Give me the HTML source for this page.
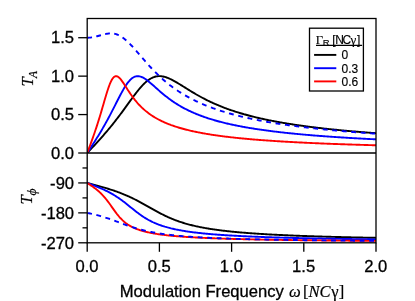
<!DOCTYPE html>
<html lang="en"><head><meta charset="utf-8"><title>Transfer functions vs modulation frequency</title>
<style>
html,body{margin:0;padding:0;background:#fff;overflow:hidden}
body{width:415px;height:301px;position:relative;font-family:"Liberation Sans",sans-serif}
svg{position:absolute;left:0;top:0;display:block}
.t{fill:#000;will-change:transform}
.sans{font-family:"Liberation Sans",sans-serif}
.serif{font-family:"Liberation Serif",serif}
</style></head>
<body>
<svg width="415" height="301" viewBox="0 0 415 301">
<rect x="0" y="0" width="415" height="301" fill="#fff"/>
<defs><clipPath id="ca"><rect x="87.2" y="18.5" width="289.2" height="134.5"/></clipPath><clipPath id="cp"><rect x="87.2" y="153.0" width="289.2" height="91.0"/></clipPath></defs>
<!-- amplitude transfer function curves -->
<g fill="none" stroke-width="1.9" stroke-linejoin="round" clip-path="url(#ca)">
<path d="M87.2 153L88.1 152.04L89.01 151.08L89.91 150.12L90.81 149.15L91.71 148.19L92.62 147.22L93.52 146.25L94.42 145.28L95.32 144.3L96.23 143.32L97.13 142.33L98.03 141.34L98.93 140.35L99.84 139.35L100.74 138.34L101.64 137.32L102.54 136.3L103.45 135.28L104.35 134.24L105.25 133.2L106.15 132.14L107.06 131.08L107.96 130.01L108.86 128.94L109.76 127.85L110.67 126.75L111.57 125.64L112.47 124.53L113.37 123.4L114.28 122.26L115.18 121.11L116.08 119.96L116.98 118.79L117.89 117.61L118.79 116.43L119.69 115.23L120.59 114.03L121.5 112.81L122.4 111.59L123.3 110.37L124.2 109.13L125.11 107.9L126.01 106.66L126.91 105.41L127.81 104.17L128.72 102.92L129.62 101.68L130.52 100.43L131.42 99.2L132.32 97.97L133.23 96.75L134.13 95.54L135.03 94.35L135.94 93.17L136.84 92.02L137.74 90.88L138.64 89.77L139.55 88.69L140.45 87.63L141.35 86.61L142.25 85.63L143.16 84.68L144.06 83.77L144.96 82.91L145.86 82.1L146.77 81.33L147.67 80.61L148.57 79.94L149.47 79.32L150.38 78.76L151.28 78.25L152.18 77.8L153.08 77.4L153.99 77.06L154.89 76.78L155.79 76.54L156.69 76.37L157.6 76.24L158.5 76.17L159.4 76.14L160.3 76.17L161.21 76.24L162.11 76.35L163.01 76.51L163.91 76.7L164.81 76.94L165.72 77.2L166.62 77.51L167.52 77.84L168.43 78.2L169.33 78.59L170.23 79L171.13 79.43L172.04 79.88L172.94 80.35L173.84 80.84L174.74 81.34L175.65 81.85L176.55 82.38L177.45 82.91L178.35 83.45L179.25 84L180.16 84.56L181.06 85.11L181.96 85.67L182.87 86.24L183.77 86.8L184.67 87.37L185.57 87.93L186.48 88.49L187.38 89.05L188.28 89.61L189.18 90.17L190.09 90.72L190.99 91.27L191.89 91.82L192.79 92.36L193.69 92.9L194.6 93.43L195.5 93.96L196.4 94.48L197.31 94.99L198.21 95.51L199.11 96.01L200.01 96.51L200.92 97L201.82 97.49L202.72 97.97L203.62 98.45L204.53 98.91L205.43 99.38L206.33 99.83L207.23 100.29L208.13 100.73L209.04 101.17L209.94 101.6L210.84 102.03L211.75 102.45L212.65 102.87L213.55 103.28L214.45 103.68L215.36 104.08L216.26 104.47L217.16 104.86L218.06 105.24L218.97 105.62L219.87 105.99L220.77 106.35L221.67 106.71L222.57 107.07L223.48 107.42L224.38 107.77L225.28 108.11L226.19 108.44L227.09 108.78L227.99 109.1L228.89 109.43L229.8 109.74L230.7 110.06L231.6 110.37L232.5 110.67L233.41 110.97L234.31 111.27L235.21 111.56L236.11 111.85L237.02 112.14L237.92 112.42L238.82 112.7L239.72 112.97L240.62 113.24L241.53 113.51L242.43 113.77L243.33 114.03L244.24 114.29L245.14 114.54L246.04 114.79L246.94 115.04L247.85 115.28L248.75 115.52L249.65 115.76L250.55 116L251.45 116.23L252.36 116.46L253.26 116.68L254.16 116.91L255.06 117.13L255.97 117.35L256.87 117.56L257.77 117.77L258.68 117.98L259.58 118.19L260.48 118.4L261.38 118.6L262.29 118.8L263.19 119L264.09 119.2L264.99 119.39L265.9 119.58L266.8 119.77L267.7 119.96L268.6 120.14L269.51 120.32L270.41 120.51L271.31 120.68L272.21 120.86L273.12 121.04L274.02 121.21L274.92 121.38L275.82 121.55L276.73 121.72L277.63 121.88L278.53 122.05L279.43 122.21L280.34 122.37L281.24 122.53L282.14 122.68L283.04 122.84L283.94 122.99L284.85 123.15L285.75 123.3L286.65 123.44L287.56 123.59L288.46 123.74L289.36 123.88L290.26 124.03L291.17 124.17L292.07 124.31L292.97 124.45L293.87 124.58L294.78 124.72L295.68 124.86L296.58 124.99L297.48 125.12L298.39 125.25L299.29 125.38L300.19 125.51L301.09 125.64L302 125.76L302.9 125.89L303.8 126.01L304.7 126.14L305.61 126.26L306.51 126.38L307.41 126.5L308.31 126.62L309.22 126.73L310.12 126.85L311.02 126.96L311.92 127.08L312.82 127.19L313.73 127.3L314.63 127.41L315.53 127.52L316.44 127.63L317.34 127.74L318.24 127.85L319.14 127.95L320.05 128.06L320.95 128.16L321.85 128.27L322.75 128.37L323.66 128.47L324.56 128.57L325.46 128.67L326.36 128.77L327.27 128.87L328.17 128.97L329.07 129.07L329.97 129.16L330.88 129.26L331.78 129.35L332.68 129.45L333.58 129.54L334.49 129.63L335.39 129.72L336.29 129.81L337.19 129.9L338.1 129.99L339 130.08L339.9 130.17L340.8 130.26L341.71 130.34L342.61 130.43L343.51 130.51L344.41 130.6L345.31 130.68L346.22 130.76L347.12 130.85L348.02 130.93L348.93 131.01L349.83 131.09L350.73 131.17L351.63 131.25L352.54 131.33L353.44 131.41L354.34 131.49L355.24 131.56L356.14 131.64L357.05 131.72L357.95 131.79L358.85 131.87L359.76 131.94L360.66 132.02L361.56 132.09L362.46 132.16L363.37 132.23L364.27 132.31L365.17 132.38L366.07 132.45L366.98 132.52L367.88 132.59L368.78 132.66L369.68 132.73L370.59 132.8L371.49 132.86L372.39 132.93L373.29 133L374.19 133.06L375.1 133.13L376 133.2" stroke="#000"/>
<path d="M87.2 153L88.1 151.63L89.01 150.25L89.91 148.88L90.81 147.5L91.71 146.11L92.62 144.72L93.52 143.32L94.42 141.91L95.32 140.49L96.23 139.06L97.13 137.62L98.03 136.16L98.93 134.69L99.84 133.2L100.74 131.69L101.64 130.17L102.54 128.63L103.45 127.07L104.35 125.48L105.25 123.88L106.15 122.26L107.06 120.62L107.96 118.96L108.86 117.27L109.76 115.57L110.67 113.85L111.57 112.12L112.47 110.37L113.37 108.6L114.28 106.83L115.18 105.06L116.08 103.28L116.98 101.5L117.89 99.73L118.79 97.97L119.69 96.23L120.59 94.52L121.5 92.84L122.4 91.2L123.3 89.61L124.2 88.08L125.11 86.61L126.01 85.22L126.91 83.9L127.81 82.67L128.72 81.54L129.62 80.51L130.52 79.58L131.42 78.76L132.32 78.05L133.23 77.46L134.13 76.97L135.03 76.61L135.94 76.35L136.84 76.19L137.74 76.14L138.64 76.19L139.55 76.33L140.45 76.56L141.35 76.87L142.25 77.25L143.16 77.69L144.06 78.2L144.96 78.76L145.86 79.37L146.77 80.02L147.67 80.7L148.57 81.41L149.47 82.15L150.38 82.91L151.28 83.69L152.18 84.48L153.08 85.27L153.99 86.08L154.89 86.88L155.79 87.69L156.69 88.49L157.6 89.29L158.5 90.09L159.4 90.88L160.3 91.66L161.21 92.44L162.11 93.2L163.01 93.96L163.91 94.7L164.81 95.43L165.72 96.15L166.62 96.86L167.52 97.56L168.43 98.24L169.33 98.91L170.23 99.57L171.13 100.22L172.04 100.86L172.94 101.48L173.84 102.09L174.74 102.69L175.65 103.28L176.55 103.85L177.45 104.41L178.35 104.97L179.25 105.51L180.16 106.04L181.06 106.56L181.96 107.07L182.87 107.57L183.77 108.06L184.67 108.54L185.57 109.01L186.48 109.47L187.38 109.92L188.28 110.37L189.18 110.8L190.09 111.23L190.99 111.65L191.89 112.06L192.79 112.46L193.69 112.86L194.6 113.24L195.5 113.62L196.4 114L197.31 114.36L198.21 114.72L199.11 115.08L200.01 115.42L200.92 115.76L201.82 116.1L202.72 116.43L203.62 116.75L204.53 117.07L205.43 117.38L206.33 117.68L207.23 117.98L208.13 118.28L209.04 118.57L209.94 118.86L210.84 119.14L211.75 119.42L212.65 119.69L213.55 119.96L214.45 120.22L215.36 120.48L216.26 120.73L217.16 120.99L218.06 121.23L218.97 121.48L219.87 121.72L220.77 121.95L221.67 122.18L222.57 122.41L223.48 122.64L224.38 122.86L225.28 123.08L226.19 123.3L227.09 123.51L227.99 123.72L228.89 123.92L229.8 124.13L230.7 124.33L231.6 124.53L232.5 124.72L233.41 124.91L234.31 125.1L235.21 125.29L236.11 125.47L237.02 125.66L237.92 125.84L238.82 126.01L239.72 126.19L240.62 126.36L241.53 126.53L242.43 126.7L243.33 126.87L244.24 127.03L245.14 127.19L246.04 127.35L246.94 127.51L247.85 127.66L248.75 127.82L249.65 127.97L250.55 128.12L251.45 128.27L252.36 128.41L253.26 128.56L254.16 128.7L255.06 128.84L255.97 128.98L256.87 129.12L257.77 129.26L258.68 129.39L259.58 129.52L260.48 129.66L261.38 129.79L262.29 129.92L263.19 130.04L264.09 130.17L264.99 130.29L265.9 130.42L266.8 130.54L267.7 130.66L268.6 130.78L269.51 130.89L270.41 131.01L271.31 131.13L272.21 131.24L273.12 131.35L274.02 131.46L274.92 131.57L275.82 131.68L276.73 131.79L277.63 131.9L278.53 132.01L279.43 132.11L280.34 132.21L281.24 132.32L282.14 132.42L283.04 132.52L283.94 132.62L284.85 132.72L285.75 132.82L286.65 132.91L287.56 133.01L288.46 133.1L289.36 133.2L290.26 133.29L291.17 133.38L292.07 133.47L292.97 133.56L293.87 133.65L294.78 133.74L295.68 133.83L296.58 133.92L297.48 134L298.39 134.09L299.29 134.17L300.19 134.26L301.09 134.34L302 134.42L302.9 134.51L303.8 134.59L304.7 134.67L305.61 134.75L306.51 134.83L307.41 134.9L308.31 134.98L309.22 135.06L310.12 135.13L311.02 135.21L311.92 135.28L312.82 135.36L313.73 135.43L314.63 135.51L315.53 135.58L316.44 135.65L317.34 135.72L318.24 135.79L319.14 135.86L320.05 135.93L320.95 136L321.85 136.07L322.75 136.14L323.66 136.2L324.56 136.27L325.46 136.33L326.36 136.4L327.27 136.47L328.17 136.53L329.07 136.59L329.97 136.66L330.88 136.72L331.78 136.78L332.68 136.85L333.58 136.91L334.49 136.97L335.39 137.03L336.29 137.09L337.19 137.15L338.1 137.21L339 137.27L339.9 137.32L340.8 137.38L341.71 137.44L342.61 137.5L343.51 137.55L344.41 137.61L345.31 137.67L346.22 137.72L347.12 137.78L348.02 137.83L348.93 137.88L349.83 137.94L350.73 137.99L351.63 138.05L352.54 138.1L353.44 138.15L354.34 138.2L355.24 138.25L356.14 138.3L357.05 138.36L357.95 138.41L358.85 138.46L359.76 138.51L360.66 138.56L361.56 138.6L362.46 138.65L363.37 138.7L364.27 138.75L365.17 138.8L366.07 138.84L366.98 138.89L367.88 138.94L368.78 138.98L369.68 139.03L370.59 139.08L371.49 139.12L372.39 139.17L373.29 139.21L374.19 139.26L375.1 139.3L376 139.35" stroke="#00f"/>
<path d="M87.2 153L88.1 150.6L89.01 148.19L89.91 145.76L90.81 143.32L91.71 140.85L92.62 138.34L93.52 135.79L94.42 133.2L95.32 130.55L96.23 127.85L97.13 125.09L98.03 122.26L98.93 119.37L99.84 116.43L100.74 113.42L101.64 110.37L102.54 107.28L103.45 104.17L104.35 101.05L105.25 97.97L106.15 94.95L107.06 92.02L107.96 89.22L108.86 86.61L109.76 84.22L110.67 82.1L111.57 80.27L112.47 78.76L113.37 77.6L114.28 76.78L115.18 76.3L116.08 76.14L116.98 76.29L117.89 76.7L118.79 77.35L119.69 78.2L120.59 79.21L121.5 80.35L122.4 81.6L123.3 82.91L124.2 84.28L125.11 85.67L126.01 87.08L126.91 88.49L127.81 89.89L128.72 91.27L129.62 92.63L130.52 93.96L131.42 95.25L132.32 96.51L133.23 97.73L134.13 98.91L135.03 100.06L135.94 101.17L136.84 102.24L137.74 103.28L138.64 104.27L139.55 105.24L140.45 106.17L141.35 107.07L142.25 107.94L143.16 108.78L144.06 109.59L144.96 110.37L145.86 111.12L146.77 111.85L147.67 112.56L148.57 113.24L149.47 113.9L150.38 114.54L151.28 115.16L152.18 115.76L153.08 116.34L153.99 116.91L154.89 117.45L155.79 117.98L156.69 118.5L157.6 119L158.5 119.48L159.4 119.96L160.3 120.41L161.21 120.86L162.11 121.29L163.01 121.72L163.91 122.13L164.81 122.53L165.72 122.92L166.62 123.3L167.52 123.67L168.43 124.03L169.33 124.38L170.23 124.72L171.13 125.06L172.04 125.38L172.94 125.7L173.84 126.01L174.74 126.32L175.65 126.62L176.55 126.91L177.45 127.19L178.35 127.47L179.25 127.74L180.16 128.01L181.06 128.27L181.96 128.52L182.87 128.77L183.77 129.02L184.67 129.26L185.57 129.49L186.48 129.72L187.38 129.95L188.28 130.17L189.18 130.39L190.09 130.6L190.99 130.81L191.89 131.01L192.79 131.21L193.69 131.41L194.6 131.6L195.5 131.79L196.4 131.98L197.31 132.16L198.21 132.34L199.11 132.52L200.01 132.69L200.92 132.86L201.82 133.03L202.72 133.2L203.62 133.36L204.53 133.52L205.43 133.68L206.33 133.83L207.23 133.98L208.13 134.13L209.04 134.28L209.94 134.42L210.84 134.57L211.75 134.71L212.65 134.84L213.55 134.98L214.45 135.11L215.36 135.25L216.26 135.38L217.16 135.51L218.06 135.63L218.97 135.76L219.87 135.88L220.77 136L221.67 136.12L222.57 136.24L223.48 136.35L224.38 136.47L225.28 136.58L226.19 136.69L227.09 136.8L227.99 136.91L228.89 137.01L229.8 137.12L230.7 137.22L231.6 137.32L232.5 137.43L233.41 137.53L234.31 137.62L235.21 137.72L236.11 137.82L237.02 137.91L237.92 138.01L238.82 138.1L239.72 138.19L240.62 138.28L241.53 138.37L242.43 138.46L243.33 138.54L244.24 138.63L245.14 138.71L246.04 138.8L246.94 138.88L247.85 138.96L248.75 139.04L249.65 139.12L250.55 139.2L251.45 139.28L252.36 139.36L253.26 139.43L254.16 139.51L255.06 139.58L255.97 139.66L256.87 139.73L257.77 139.8L258.68 139.87L259.58 139.94L260.48 140.01L261.38 140.08L262.29 140.15L263.19 140.22L264.09 140.29L264.99 140.35L265.9 140.42L266.8 140.48L267.7 140.55L268.6 140.61L269.51 140.67L270.41 140.74L271.31 140.8L272.21 140.86L273.12 140.92L274.02 140.98L274.92 141.04L275.82 141.1L276.73 141.15L277.63 141.21L278.53 141.27L279.43 141.32L280.34 141.38L281.24 141.43L282.14 141.49L283.04 141.54L283.94 141.6L284.85 141.65L285.75 141.7L286.65 141.76L287.56 141.81L288.46 141.86L289.36 141.91L290.26 141.96L291.17 142.01L292.07 142.06L292.97 142.11L293.87 142.16L294.78 142.2L295.68 142.25L296.58 142.3L297.48 142.35L298.39 142.39L299.29 142.44L300.19 142.48L301.09 142.53L302 142.57L302.9 142.62L303.8 142.66L304.7 142.71L305.61 142.75L306.51 142.79L307.41 142.83L308.31 142.88L309.22 142.92L310.12 142.96L311.02 143L311.92 143.04L312.82 143.08L313.73 143.12L314.63 143.16L315.53 143.2L316.44 143.24L317.34 143.28L318.24 143.32L319.14 143.36L320.05 143.39L320.95 143.43L321.85 143.47L322.75 143.51L323.66 143.54L324.56 143.58L325.46 143.62L326.36 143.65L327.27 143.69L328.17 143.72L329.07 143.76L329.97 143.79L330.88 143.83L331.78 143.86L332.68 143.9L333.58 143.93L334.49 143.96L335.39 144L336.29 144.03L337.19 144.06L338.1 144.09L339 144.13L339.9 144.16L340.8 144.19L341.71 144.22L342.61 144.25L343.51 144.29L344.41 144.32L345.31 144.35L346.22 144.38L347.12 144.41L348.02 144.44L348.93 144.47L349.83 144.5L350.73 144.53L351.63 144.56L352.54 144.59L353.44 144.61L354.34 144.64L355.24 144.67L356.14 144.7L357.05 144.73L357.95 144.76L358.85 144.78L359.76 144.81L360.66 144.84L361.56 144.87L362.46 144.89L363.37 144.92L364.27 144.95L365.17 144.97L366.07 145L366.98 145.02L367.88 145.05L368.78 145.08L369.68 145.1L370.59 145.13L371.49 145.15L372.39 145.18L373.29 145.2L374.19 145.23L375.1 145.25L376 145.28" stroke="#f00"/>
<path d="M87.2 37.71L88.1 37.7L89.01 37.66L89.91 37.59L90.81 37.5L91.71 37.38L92.62 37.23L93.52 37.07L94.42 36.88L95.32 36.68L96.23 36.46L97.13 36.23L98.03 35.98L98.93 35.73L99.84 35.48L100.74 35.22L101.64 34.97L102.54 34.72L103.45 34.48L104.35 34.26L105.25 34.06L106.15 33.87L107.06 33.71L107.96 33.58L108.86 33.49L109.76 33.42L110.67 33.4L111.57 33.42L112.47 33.48L113.37 33.58L114.28 33.74L115.18 33.94L116.08 34.19L116.98 34.49L117.89 34.85L118.79 35.25L119.69 35.7L120.59 36.21L121.5 36.76L122.4 37.36L123.3 38.01L124.2 38.7L125.11 39.43L126.01 40.2L126.91 41.01L127.81 41.85L128.72 42.72L129.62 43.62L130.52 44.55L131.42 45.5L132.32 46.47L133.23 47.46L134.13 48.47L135.03 49.49L135.94 50.52L136.84 51.55L137.74 52.6L138.64 53.65L139.55 54.7L140.45 55.75L141.35 56.81L142.25 57.86L143.16 58.9L144.06 59.94L144.96 60.98L145.86 62.01L146.77 63.03L147.67 64.04L148.57 65.04L149.47 66.03L150.38 67.01L151.28 67.98L152.18 68.94L153.08 69.89L153.99 70.82L154.89 71.74L155.79 72.65L156.69 73.54L157.6 74.42L158.5 75.29L159.4 76.14L160.3 76.98L161.21 77.81L162.11 78.63L163.01 79.43L163.91 80.22L164.81 80.99L165.72 81.75L166.62 82.5L167.52 83.24L168.43 83.97L169.33 84.68L170.23 85.38L171.13 86.07L172.04 86.74L172.94 87.41L173.84 88.06L174.74 88.71L175.65 89.34L176.55 89.96L177.45 90.57L178.35 91.17L179.25 91.76L180.16 92.34L181.06 92.91L181.96 93.48L182.87 94.03L183.77 94.57L184.67 95.1L185.57 95.63L186.48 96.14L187.38 96.65L188.28 97.15L189.18 97.64L190.09 98.13L190.99 98.6L191.89 99.07L192.79 99.53L193.69 99.98L194.6 100.43L195.5 100.87L196.4 101.3L197.31 101.72L198.21 102.14L199.11 102.55L200.01 102.96L200.92 103.36L201.82 103.75L202.72 104.14L203.62 104.52L204.53 104.9L205.43 105.27L206.33 105.64L207.23 106L208.13 106.35L209.04 106.7L209.94 107.04L210.84 107.38L211.75 107.72L212.65 108.05L213.55 108.37L214.45 108.69L215.36 109.01L216.26 109.32L217.16 109.63L218.06 109.93L218.97 110.23L219.87 110.53L220.77 110.82L221.67 111.11L222.57 111.39L223.48 111.67L224.38 111.95L225.28 112.22L226.19 112.49L227.09 112.75L227.99 113.02L228.89 113.27L229.8 113.53L230.7 113.78L231.6 114.03L232.5 114.28L233.41 114.52L234.31 114.76L235.21 115L236.11 115.23L237.02 115.46L237.92 115.69L238.82 115.92L239.72 116.14L240.62 116.36L241.53 116.58L242.43 116.79L243.33 117.01L244.24 117.22L245.14 117.43L246.04 117.63L246.94 117.83L247.85 118.03L248.75 118.23L249.65 118.43L250.55 118.62L251.45 118.82L252.36 119.01L253.26 119.19L254.16 119.38L255.06 119.56L255.97 119.74L256.87 119.92L257.77 120.1L258.68 120.28L259.58 120.45L260.48 120.62L261.38 120.79L262.29 120.96L263.19 121.13L264.09 121.3L264.99 121.46L265.9 121.62L266.8 121.78L267.7 121.94L268.6 122.1L269.51 122.25L270.41 122.41L271.31 122.56L272.21 122.71L273.12 122.86L274.02 123.01L274.92 123.15L275.82 123.3L276.73 123.44L277.63 123.58L278.53 123.72L279.43 123.86L280.34 124L281.24 124.14L282.14 124.27L283.04 124.41L283.94 124.54L284.85 124.67L285.75 124.8L286.65 124.93L287.56 125.06L288.46 125.19L289.36 125.31L290.26 125.44L291.17 125.56L292.07 125.69L292.97 125.81L293.87 125.93L294.78 126.05L295.68 126.16L296.58 126.28L297.48 126.4L298.39 126.51L299.29 126.63L300.19 126.74L301.09 126.85L302 126.96L302.9 127.07L303.8 127.18L304.7 127.29L305.61 127.4L306.51 127.51L307.41 127.61L308.31 127.72L309.22 127.82L310.12 127.92L311.02 128.03L311.92 128.13L312.82 128.23L313.73 128.33L314.63 128.43L315.53 128.53L316.44 128.62L317.34 128.72L318.24 128.82L319.14 128.91L320.05 129.01L320.95 129.1L321.85 129.19L322.75 129.29L323.66 129.38L324.56 129.47L325.46 129.56L326.36 129.65L327.27 129.74L328.17 129.82L329.07 129.91L329.97 130L330.88 130.08L331.78 130.17L332.68 130.26L333.58 130.34L334.49 130.42L335.39 130.51L336.29 130.59L337.19 130.67L338.1 130.75L339 130.83L339.9 130.91L340.8 130.99L341.71 131.07L342.61 131.15L343.51 131.23L344.41 131.3L345.31 131.38L346.22 131.46L347.12 131.53L348.02 131.61L348.93 131.68L349.83 131.75L350.73 131.83L351.63 131.9L352.54 131.97L353.44 132.05L354.34 132.12L355.24 132.19L356.14 132.26L357.05 132.33L357.95 132.4L358.85 132.47L359.76 132.54L360.66 132.6L361.56 132.67L362.46 132.74L363.37 132.81L364.27 132.87L365.17 132.94L366.07 133L366.98 133.07L367.88 133.13L368.78 133.2L369.68 133.26L370.59 133.32L371.49 133.39L372.39 133.45L373.29 133.51L374.19 133.57L375.1 133.64L376 133.7" stroke="#00f" stroke-dasharray="4.85 4.32 4.85 4.32 4.85 4.32 4.85 4.32 4.85 4.67 4.85 4.67 4.85 4.67 4.85 4.67 4.85 4.67 4.85 4.67 4.85 4.67 4.85 4.67 4.85 4.67 4.85 4.67 4.85 4.67 4.85 4.67 4.85 4.67 4.85 4.67 4.85 4.67 4.85 4.67 4.85 4.67 4.85 4.67 4.85 4.67 4.85 4.67 4.85 4.67 4.85 4.67 4.85 4.67 4.85 4.67 4.85 4.67 4.85 4.67 4.85 4.67 4.85 4.67 4.85 4.67 4.85 4.67 4.85 4.67 4.85 4.67 4.85 4.67 4.85 4.67"/>
</g>
<!-- phase transfer function curves -->
<g fill="none" stroke-width="1.9" stroke-linejoin="round" clip-path="url(#cp)">
<path d="M87.2 182.93L88.1 183.17L89.01 183.41L89.91 183.65L90.81 183.89L91.71 184.13L92.62 184.37L93.52 184.61L94.42 184.85L95.32 185.1L96.23 185.34L97.13 185.59L98.03 185.83L98.93 186.08L99.84 186.34L100.74 186.59L101.64 186.85L102.54 187.11L103.45 187.37L104.35 187.63L105.25 187.9L106.15 188.17L107.06 188.44L107.96 188.72L108.86 189L109.76 189.29L110.67 189.58L111.57 189.87L112.47 190.17L113.37 190.47L114.28 190.77L115.18 191.09L116.08 191.4L116.98 191.72L117.89 192.05L118.79 192.38L119.69 192.72L120.59 193.07L121.5 193.42L122.4 193.78L123.3 194.14L124.2 194.51L125.11 194.88L126.01 195.27L126.91 195.66L127.81 196.05L128.72 196.46L129.62 196.87L130.52 197.29L131.42 197.71L132.32 198.14L133.23 198.58L134.13 199.02L135.03 199.48L135.94 199.93L136.84 200.4L137.74 200.87L138.64 201.34L139.55 201.83L140.45 202.31L141.35 202.8L142.25 203.3L143.16 203.8L144.06 204.3L144.96 204.81L145.86 205.32L146.77 205.83L147.67 206.34L148.57 206.85L149.47 207.37L150.38 207.88L151.28 208.39L152.18 208.9L153.08 209.41L153.99 209.92L154.89 210.42L155.79 210.92L156.69 211.41L157.6 211.9L158.5 212.39L159.4 212.87L160.3 213.34L161.21 213.81L162.11 214.27L163.01 214.72L163.91 215.17L164.81 215.61L165.72 216.04L166.62 216.46L167.52 216.88L168.43 217.29L169.33 217.68L170.23 218.08L171.13 218.46L172.04 218.84L172.94 219.2L173.84 219.56L174.74 219.92L175.65 220.26L176.55 220.6L177.45 220.92L178.35 221.25L179.25 221.56L180.16 221.87L181.06 222.17L181.96 222.46L182.87 222.74L183.77 223.02L184.67 223.29L185.57 223.56L186.48 223.82L187.38 224.07L188.28 224.32L189.18 224.56L190.09 224.8L190.99 225.03L191.89 225.25L192.79 225.48L193.69 225.69L194.6 225.9L195.5 226.11L196.4 226.31L197.31 226.5L198.21 226.69L199.11 226.88L200.01 227.07L200.92 227.24L201.82 227.42L202.72 227.59L203.62 227.76L204.53 227.92L205.43 228.09L206.33 228.24L207.23 228.4L208.13 228.55L209.04 228.7L209.94 228.84L210.84 228.98L211.75 229.12L212.65 229.26L213.55 229.39L214.45 229.52L215.36 229.65L216.26 229.78L217.16 229.9L218.06 230.02L218.97 230.14L219.87 230.26L220.77 230.37L221.67 230.48L222.57 230.59L223.48 230.7L224.38 230.81L225.28 230.91L226.19 231.02L227.09 231.12L227.99 231.22L228.89 231.31L229.8 231.41L230.7 231.5L231.6 231.59L232.5 231.69L233.41 231.78L234.31 231.86L235.21 231.95L236.11 232.03L237.02 232.12L237.92 232.2L238.82 232.28L239.72 232.36L240.62 232.44L241.53 232.52L242.43 232.59L243.33 232.67L244.24 232.74L245.14 232.81L246.04 232.89L246.94 232.96L247.85 233.03L248.75 233.09L249.65 233.16L250.55 233.23L251.45 233.29L252.36 233.36L253.26 233.42L254.16 233.48L255.06 233.55L255.97 233.61L256.87 233.67L257.77 233.73L258.68 233.79L259.58 233.84L260.48 233.9L261.38 233.96L262.29 234.01L263.19 234.07L264.09 234.12L264.99 234.17L265.9 234.23L266.8 234.28L267.7 234.33L268.6 234.38L269.51 234.43L270.41 234.48L271.31 234.53L272.21 234.58L273.12 234.63L274.02 234.67L274.92 234.72L275.82 234.77L276.73 234.81L277.63 234.86L278.53 234.9L279.43 234.94L280.34 234.99L281.24 235.03L282.14 235.07L283.04 235.12L283.94 235.16L284.85 235.2L285.75 235.24L286.65 235.28L287.56 235.32L288.46 235.36L289.36 235.4L290.26 235.43L291.17 235.47L292.07 235.51L292.97 235.55L293.87 235.58L294.78 235.62L295.68 235.66L296.58 235.69L297.48 235.73L298.39 235.76L299.29 235.8L300.19 235.83L301.09 235.86L302 235.9L302.9 235.93L303.8 235.96L304.7 236L305.61 236.03L306.51 236.06L307.41 236.09L308.31 236.12L309.22 236.15L310.12 236.18L311.02 236.21L311.92 236.24L312.82 236.27L313.73 236.3L314.63 236.33L315.53 236.36L316.44 236.39L317.34 236.42L318.24 236.45L319.14 236.47L320.05 236.5L320.95 236.53L321.85 236.56L322.75 236.58L323.66 236.61L324.56 236.64L325.46 236.66L326.36 236.69L327.27 236.71L328.17 236.74L329.07 236.77L329.97 236.79L330.88 236.82L331.78 236.84L332.68 236.86L333.58 236.89L334.49 236.91L335.39 236.94L336.29 236.96L337.19 236.98L338.1 237.01L339 237.03L339.9 237.05L340.8 237.07L341.71 237.1L342.61 237.12L343.51 237.14L344.41 237.16L345.31 237.19L346.22 237.21L347.12 237.23L348.02 237.25L348.93 237.27L349.83 237.29L350.73 237.31L351.63 237.33L352.54 237.35L353.44 237.37L354.34 237.39L355.24 237.41L356.14 237.43L357.05 237.45L357.95 237.47L358.85 237.49L359.76 237.51L360.66 237.53L361.56 237.55L362.46 237.57L363.37 237.59L364.27 237.61L365.17 237.62L366.07 237.64L366.98 237.66L367.88 237.68L368.78 237.7L369.68 237.71L370.59 237.73L371.49 237.75L372.39 237.77L373.29 237.78L374.19 237.8L375.1 237.82L376 237.83" stroke="#000"/>
<path d="M87.2 182.93L88.1 183.27L89.01 183.61L89.91 183.96L90.81 184.3L91.71 184.64L92.62 184.99L93.52 185.34L94.42 185.69L95.32 186.05L96.23 186.41L97.13 186.77L98.03 187.14L98.93 187.52L99.84 187.9L100.74 188.29L101.64 188.68L102.54 189.08L103.45 189.49L104.35 189.91L105.25 190.34L106.15 190.77L107.06 191.22L107.96 191.68L108.86 192.15L109.76 192.63L110.67 193.12L111.57 193.62L112.47 194.14L113.37 194.67L114.28 195.21L115.18 195.77L116.08 196.34L116.98 196.93L117.89 197.53L118.79 198.14L119.69 198.77L120.59 199.41L121.5 200.07L122.4 200.73L123.3 201.41L124.2 202.1L125.11 202.8L126.01 203.51L126.91 204.23L127.81 204.95L128.72 205.68L129.62 206.41L130.52 207.15L131.42 207.88L132.32 208.61L133.23 209.34L134.13 210.06L135.03 210.78L135.94 211.48L136.84 212.18L137.74 212.87L138.64 213.54L139.55 214.2L140.45 214.85L141.35 215.48L142.25 216.1L143.16 216.7L144.06 217.29L144.96 217.85L145.86 218.41L146.77 218.94L147.67 219.46L148.57 219.97L149.47 220.45L150.38 220.92L151.28 221.38L152.18 221.82L153.08 222.25L153.99 222.66L154.89 223.06L155.79 223.45L156.69 223.82L157.6 224.18L158.5 224.53L159.4 224.87L160.3 225.19L161.21 225.51L162.11 225.81L163.01 226.11L163.91 226.39L164.81 226.67L165.72 226.93L166.62 227.19L167.52 227.45L168.43 227.69L169.33 227.92L170.23 228.15L171.13 228.38L172.04 228.59L172.94 228.8L173.84 229L174.74 229.2L175.65 229.39L176.55 229.58L177.45 229.76L178.35 229.94L179.25 230.11L180.16 230.27L181.06 230.44L181.96 230.59L182.87 230.75L183.77 230.9L184.67 231.04L185.57 231.19L186.48 231.33L187.38 231.46L188.28 231.59L189.18 231.72L190.09 231.85L190.99 231.97L191.89 232.09L192.79 232.21L193.69 232.33L194.6 232.44L195.5 232.55L196.4 232.66L197.31 232.76L198.21 232.87L199.11 232.97L200.01 233.06L200.92 233.16L201.82 233.26L202.72 233.35L203.62 233.44L204.53 233.53L205.43 233.62L206.33 233.7L207.23 233.79L208.13 233.87L209.04 233.95L209.94 234.03L210.84 234.11L211.75 234.18L212.65 234.26L213.55 234.33L214.45 234.4L215.36 234.47L216.26 234.54L217.16 234.61L218.06 234.68L218.97 234.75L219.87 234.81L220.77 234.88L221.67 234.94L222.57 235L223.48 235.06L224.38 235.12L225.28 235.18L226.19 235.24L227.09 235.3L227.99 235.35L228.89 235.41L229.8 235.46L230.7 235.51L231.6 235.57L232.5 235.62L233.41 235.67L234.31 235.72L235.21 235.77L236.11 235.82L237.02 235.87L237.92 235.92L238.82 235.96L239.72 236.01L240.62 236.06L241.53 236.1L242.43 236.14L243.33 236.19L244.24 236.23L245.14 236.27L246.04 236.32L246.94 236.36L247.85 236.4L248.75 236.44L249.65 236.48L250.55 236.52L251.45 236.56L252.36 236.6L253.26 236.63L254.16 236.67L255.06 236.71L255.97 236.74L256.87 236.78L257.77 236.82L258.68 236.85L259.58 236.88L260.48 236.92L261.38 236.95L262.29 236.99L263.19 237.02L264.09 237.05L264.99 237.08L265.9 237.12L266.8 237.15L267.7 237.18L268.6 237.21L269.51 237.24L270.41 237.27L271.31 237.3L272.21 237.33L273.12 237.36L274.02 237.39L274.92 237.42L275.82 237.44L276.73 237.47L277.63 237.5L278.53 237.53L279.43 237.55L280.34 237.58L281.24 237.61L282.14 237.63L283.04 237.66L283.94 237.69L284.85 237.71L285.75 237.74L286.65 237.76L287.56 237.79L288.46 237.81L289.36 237.83L290.26 237.86L291.17 237.88L292.07 237.9L292.97 237.93L293.87 237.95L294.78 237.97L295.68 238L296.58 238.02L297.48 238.04L298.39 238.06L299.29 238.08L300.19 238.11L301.09 238.13L302 238.15L302.9 238.17L303.8 238.19L304.7 238.21L305.61 238.23L306.51 238.25L307.41 238.27L308.31 238.29L309.22 238.31L310.12 238.33L311.02 238.35L311.92 238.37L312.82 238.39L313.73 238.41L314.63 238.42L315.53 238.44L316.44 238.46L317.34 238.48L318.24 238.5L319.14 238.51L320.05 238.53L320.95 238.55L321.85 238.57L322.75 238.58L323.66 238.6L324.56 238.62L325.46 238.63L326.36 238.65L327.27 238.67L328.17 238.68L329.07 238.7L329.97 238.72L330.88 238.73L331.78 238.75L332.68 238.76L333.58 238.78L334.49 238.8L335.39 238.81L336.29 238.83L337.19 238.84L338.1 238.86L339 238.87L339.9 238.89L340.8 238.9L341.71 238.92L342.61 238.93L343.51 238.94L344.41 238.96L345.31 238.97L346.22 238.99L347.12 239L348.02 239.01L348.93 239.03L349.83 239.04L350.73 239.05L351.63 239.07L352.54 239.08L353.44 239.09L354.34 239.11L355.24 239.12L356.14 239.13L357.05 239.15L357.95 239.16L358.85 239.17L359.76 239.18L360.66 239.2L361.56 239.21L362.46 239.22L363.37 239.23L364.27 239.25L365.17 239.26L366.07 239.27L366.98 239.28L367.88 239.29L368.78 239.31L369.68 239.32L370.59 239.33L371.49 239.34L372.39 239.35L373.29 239.36L374.19 239.37L375.1 239.39L376 239.4" stroke="#00f"/>
<path d="M87.2 182.93L88.1 183.53L89.01 184.13L89.91 184.73L90.81 185.34L91.71 185.96L92.62 186.59L93.52 187.24L94.42 187.9L95.32 188.58L96.23 189.29L97.13 190.02L98.03 190.77L98.93 191.56L99.84 192.38L100.74 193.24L101.64 194.14L102.54 195.08L103.45 196.05L104.35 197.08L105.25 198.14L106.15 199.25L107.06 200.4L107.96 201.58L108.86 202.8L109.76 204.05L110.67 205.32L111.57 206.6L112.47 207.88L113.37 209.16L114.28 210.42L115.18 211.66L116.08 212.87L116.98 214.04L117.89 215.17L118.79 216.25L119.69 217.29L120.59 218.27L121.5 219.2L122.4 220.09L123.3 220.92L124.2 221.71L125.11 222.46L126.01 223.16L126.91 223.82L127.81 224.44L128.72 225.03L129.62 225.58L130.52 226.11L131.42 226.6L132.32 227.07L133.23 227.51L134.13 227.92L135.03 228.32L135.94 228.7L136.84 229.05L137.74 229.39L138.64 229.71L139.55 230.02L140.45 230.31L141.35 230.59L142.25 230.86L143.16 231.12L144.06 231.36L144.96 231.59L145.86 231.82L146.77 232.03L147.67 232.24L148.57 232.44L149.47 232.63L150.38 232.81L151.28 232.99L152.18 233.16L153.08 233.33L153.99 233.48L154.89 233.64L155.79 233.79L156.69 233.93L157.6 234.07L158.5 234.2L159.4 234.33L160.3 234.46L161.21 234.58L162.11 234.7L163.01 234.81L163.91 234.92L164.81 235.03L165.72 235.14L166.62 235.24L167.52 235.34L168.43 235.43L169.33 235.53L170.23 235.62L171.13 235.71L172.04 235.8L172.94 235.88L173.84 235.96L174.74 236.04L175.65 236.12L176.55 236.2L177.45 236.27L178.35 236.35L179.25 236.42L180.16 236.49L181.06 236.56L181.96 236.62L182.87 236.69L183.77 236.75L184.67 236.82L185.57 236.88L186.48 236.94L187.38 236.99L188.28 237.05L189.18 237.11L190.09 237.16L190.99 237.22L191.89 237.27L192.79 237.32L193.69 237.37L194.6 237.42L195.5 237.47L196.4 237.52L197.31 237.57L198.21 237.61L199.11 237.66L200.01 237.7L200.92 237.75L201.82 237.79L202.72 237.83L203.62 237.88L204.53 237.92L205.43 237.96L206.33 238L207.23 238.04L208.13 238.07L209.04 238.11L209.94 238.15L210.84 238.18L211.75 238.22L212.65 238.26L213.55 238.29L214.45 238.32L215.36 238.36L216.26 238.39L217.16 238.42L218.06 238.46L218.97 238.49L219.87 238.52L220.77 238.55L221.67 238.58L222.57 238.61L223.48 238.64L224.38 238.67L225.28 238.7L226.19 238.72L227.09 238.75L227.99 238.78L228.89 238.81L229.8 238.83L230.7 238.86L231.6 238.89L232.5 238.91L233.41 238.94L234.31 238.96L235.21 238.99L236.11 239.01L237.02 239.03L237.92 239.06L238.82 239.08L239.72 239.1L240.62 239.13L241.53 239.15L242.43 239.17L243.33 239.19L244.24 239.22L245.14 239.24L246.04 239.26L246.94 239.28L247.85 239.3L248.75 239.32L249.65 239.34L250.55 239.36L251.45 239.38L252.36 239.4L253.26 239.42L254.16 239.44L255.06 239.46L255.97 239.47L256.87 239.49L257.77 239.51L258.68 239.53L259.58 239.55L260.48 239.56L261.38 239.58L262.29 239.6L263.19 239.62L264.09 239.63L264.99 239.65L265.9 239.67L266.8 239.68L267.7 239.7L268.6 239.71L269.51 239.73L270.41 239.75L271.31 239.76L272.21 239.78L273.12 239.79L274.02 239.81L274.92 239.82L275.82 239.84L276.73 239.85L277.63 239.87L278.53 239.88L279.43 239.89L280.34 239.91L281.24 239.92L282.14 239.94L283.04 239.95L283.94 239.96L284.85 239.98L285.75 239.99L286.65 240L287.56 240.01L288.46 240.03L289.36 240.04L290.26 240.05L291.17 240.07L292.07 240.08L292.97 240.09L293.87 240.1L294.78 240.11L295.68 240.13L296.58 240.14L297.48 240.15L298.39 240.16L299.29 240.17L300.19 240.18L301.09 240.2L302 240.21L302.9 240.22L303.8 240.23L304.7 240.24L305.61 240.25L306.51 240.26L307.41 240.27L308.31 240.28L309.22 240.29L310.12 240.3L311.02 240.31L311.92 240.32L312.82 240.33L313.73 240.34L314.63 240.35L315.53 240.36L316.44 240.37L317.34 240.38L318.24 240.39L319.14 240.4L320.05 240.41L320.95 240.42L321.85 240.43L322.75 240.44L323.66 240.45L324.56 240.46L325.46 240.47L326.36 240.48L327.27 240.49L328.17 240.49L329.07 240.5L329.97 240.51L330.88 240.52L331.78 240.53L332.68 240.54L333.58 240.55L334.49 240.55L335.39 240.56L336.29 240.57L337.19 240.58L338.1 240.59L339 240.6L339.9 240.6L340.8 240.61L341.71 240.62L342.61 240.63L343.51 240.63L344.41 240.64L345.31 240.65L346.22 240.66L347.12 240.67L348.02 240.67L348.93 240.68L349.83 240.69L350.73 240.69L351.63 240.7L352.54 240.71L353.44 240.72L354.34 240.72L355.24 240.73L356.14 240.74L357.05 240.74L357.95 240.75L358.85 240.76L359.76 240.77L360.66 240.77L361.56 240.78L362.46 240.79L363.37 240.79L364.27 240.8L365.17 240.81L366.07 240.81L366.98 240.82L367.88 240.83L368.78 240.83L369.68 240.84L370.59 240.84L371.49 240.85L372.39 240.86L373.29 240.86L374.19 240.87L375.1 240.88L376 240.88" stroke="#f00"/>
<path d="M87.2 212.87L88.1 213.07L89.01 213.26L89.91 213.46L90.81 213.67L91.71 213.87L92.62 214.08L93.52 214.29L94.42 214.5L95.32 214.72L96.23 214.94L97.13 215.17L98.03 215.41L98.93 215.64L99.84 215.89L100.74 216.14L101.64 216.4L102.54 216.66L103.45 216.93L104.35 217.21L105.25 217.49L106.15 217.78L107.06 218.08L107.96 218.38L108.86 218.69L109.76 219L110.67 219.31L111.57 219.64L112.47 219.96L113.37 220.29L114.28 220.62L115.18 220.96L116.08 221.3L116.98 221.64L117.89 221.98L118.79 222.32L119.69 222.66L120.59 223L121.5 223.33L122.4 223.67L123.3 224.01L124.2 224.34L125.11 224.67L126.01 225L126.91 225.32L127.81 225.64L128.72 225.95L129.62 226.26L130.52 226.56L131.42 226.86L132.32 227.16L133.23 227.45L134.13 227.73L135.03 228.01L135.94 228.28L136.84 228.55L137.74 228.81L138.64 229.06L139.55 229.31L140.45 229.55L141.35 229.79L142.25 230.02L143.16 230.25L144.06 230.47L144.96 230.68L145.86 230.89L146.77 231.1L147.67 231.3L148.57 231.49L149.47 231.68L150.38 231.86L151.28 232.04L152.18 232.22L153.08 232.39L153.99 232.55L154.89 232.72L155.79 232.87L156.69 233.03L157.6 233.18L158.5 233.32L159.4 233.46L160.3 233.6L161.21 233.74L162.11 233.87L163.01 234L163.91 234.12L164.81 234.24L165.72 234.36L166.62 234.48L167.52 234.59L168.43 234.7L169.33 234.81L170.23 234.91L171.13 235.02L172.04 235.12L172.94 235.21L173.84 235.31L174.74 235.4L175.65 235.49L176.55 235.58L177.45 235.67L178.35 235.76L179.25 235.84L180.16 235.92L181.06 236L181.96 236.08L182.87 236.15L183.77 236.23L184.67 236.3L185.57 236.37L186.48 236.44L187.38 236.51L188.28 236.58L189.18 236.64L190.09 236.71L190.99 236.77L191.89 236.83L192.79 236.89L193.69 236.95L194.6 237.01L195.5 237.07L196.4 237.12L197.31 237.18L198.21 237.23L199.11 237.29L200.01 237.34L200.92 237.39L201.82 237.44L202.72 237.49L203.62 237.54L204.53 237.58L205.43 237.63L206.33 237.68L207.23 237.72L208.13 237.76L209.04 237.81L209.94 237.85L210.84 237.89L211.75 237.93L212.65 237.97L213.55 238.01L214.45 238.05L215.36 238.09L216.26 238.13L217.16 238.17L218.06 238.2L218.97 238.24L219.87 238.27L220.77 238.31L221.67 238.34L222.57 238.38L223.48 238.41L224.38 238.44L225.28 238.48L226.19 238.51L227.09 238.54L227.99 238.57L228.89 238.6L229.8 238.63L230.7 238.66L231.6 238.69L232.5 238.72L233.41 238.75L234.31 238.78L235.21 238.8L236.11 238.83L237.02 238.86L237.92 238.88L238.82 238.91L239.72 238.94L240.62 238.96L241.53 238.99L242.43 239.01L243.33 239.04L244.24 239.06L245.14 239.08L246.04 239.11L246.94 239.13L247.85 239.15L248.75 239.18L249.65 239.2L250.55 239.22L251.45 239.24L252.36 239.26L253.26 239.28L254.16 239.31L255.06 239.33L255.97 239.35L256.87 239.37L257.77 239.39L258.68 239.41L259.58 239.43L260.48 239.45L261.38 239.46L262.29 239.48L263.19 239.5L264.09 239.52L264.99 239.54L265.9 239.56L266.8 239.57L267.7 239.59L268.6 239.61L269.51 239.63L270.41 239.64L271.31 239.66L272.21 239.68L273.12 239.69L274.02 239.71L274.92 239.73L275.82 239.74L276.73 239.76L277.63 239.77L278.53 239.79L279.43 239.8L280.34 239.82L281.24 239.84L282.14 239.85L283.04 239.86L283.94 239.88L284.85 239.89L285.75 239.91L286.65 239.92L287.56 239.94L288.46 239.95L289.36 239.96L290.26 239.98L291.17 239.99L292.07 240L292.97 240.02L293.87 240.03L294.78 240.04L295.68 240.06L296.58 240.07L297.48 240.08L298.39 240.09L299.29 240.11L300.19 240.12L301.09 240.13L302 240.14L302.9 240.15L303.8 240.17L304.7 240.18L305.61 240.19L306.51 240.2L307.41 240.21L308.31 240.22L309.22 240.23L310.12 240.25L311.02 240.26L311.92 240.27L312.82 240.28L313.73 240.29L314.63 240.3L315.53 240.31L316.44 240.32L317.34 240.33L318.24 240.34L319.14 240.35L320.05 240.36L320.95 240.37L321.85 240.38L322.75 240.39L323.66 240.4L324.56 240.41L325.46 240.42L326.36 240.43L327.27 240.44L328.17 240.45L329.07 240.46L329.97 240.47L330.88 240.48L331.78 240.48L332.68 240.49L333.58 240.5L334.49 240.51L335.39 240.52L336.29 240.53L337.19 240.54L338.1 240.55L339 240.55L339.9 240.56L340.8 240.57L341.71 240.58L342.61 240.59L343.51 240.6L344.41 240.6L345.31 240.61L346.22 240.62L347.12 240.63L348.02 240.64L348.93 240.64L349.83 240.65L350.73 240.66L351.63 240.67L352.54 240.67L353.44 240.68L354.34 240.69L355.24 240.7L356.14 240.7L357.05 240.71L357.95 240.72L358.85 240.73L359.76 240.73L360.66 240.74L361.56 240.75L362.46 240.75L363.37 240.76L364.27 240.77L365.17 240.78L366.07 240.78L366.98 240.79L367.88 240.8L368.78 240.8L369.68 240.81L370.59 240.82L371.49 240.82L372.39 240.83L373.29 240.83L374.19 240.84L375.1 240.85L376 240.85" stroke="#00f" stroke-dasharray="4.85 4.55 4.85 4.55 4.85 4.55 4.85 4.55 4.85 4.55 4.85 4.68 4.85 4.68 4.85 4.68 4.85 4.68 4.85 4.68 4.85 4.68 4.85 4.68 4.85 4.68 4.85 4.68 4.85 4.68 4.85 4.68 4.85 4.68 4.85 4.68 4.85 4.68 4.85 4.68 4.85 4.68 4.85 4.68 4.85 4.68 4.85 4.68 4.85 4.68 4.85 4.68 4.85 4.68 4.85 4.68 4.85 4.68 4.85 4.68 4.85 4.68 4.85 4.68 4.85 4.68 4.85 4.68 4.85 4.68"/>
</g>
<!-- axes frame and ticks -->
<g stroke="#000" stroke-width="1.3" fill="none">
<rect x="87.2" y="18.5" width="288.8" height="224.3"/>
<line x1="87.2" y1="153.0" x2="376.0" y2="153.0"/>
<line x1="78.2" y1="153.00" x2="87.2" y2="153.00"/>
<line x1="78.2" y1="114.57" x2="87.2" y2="114.57"/>
<line x1="78.2" y1="76.14" x2="87.2" y2="76.14"/>
<line x1="78.2" y1="37.71" x2="87.2" y2="37.71"/>
<line x1="78.2" y1="182.93" x2="87.2" y2="182.93"/>
<line x1="78.2" y1="212.87" x2="87.2" y2="212.87"/>
<line x1="78.2" y1="242.80" x2="87.2" y2="242.80"/>
<line x1="82.5" y1="167.97" x2="87.2" y2="167.97"/>
<line x1="82.5" y1="197.90" x2="87.2" y2="197.90"/>
<line x1="82.5" y1="227.83" x2="87.2" y2="227.83"/>
<line x1="87.20" y1="242.8" x2="87.20" y2="251.8"/>
<line x1="159.40" y1="242.8" x2="159.40" y2="251.8"/>
<line x1="231.60" y1="242.8" x2="231.60" y2="251.8"/>
<line x1="303.80" y1="242.8" x2="303.80" y2="251.8"/>
<line x1="376.00" y1="242.8" x2="376.00" y2="251.8"/>
</g>
<!-- tick labels -->
<g class="t sans" font-size="16.6" stroke="#000" stroke-width="0.3">
<text x="74.1" y="158.75" text-anchor="end">0.0</text>
<text x="74.1" y="120.32" text-anchor="end">0.5</text>
<text x="74.1" y="81.89" text-anchor="end">1.0</text>
<text x="74.1" y="43.46" text-anchor="end">1.5</text>
<text x="74.1" y="188.68" text-anchor="end">-90</text>
<text x="74.1" y="218.62" text-anchor="end">-180</text>
<text x="74.1" y="248.55" text-anchor="end">-270</text>
<text x="87.00" y="271.8" text-anchor="middle">0.0</text>
<text x="159.20" y="271.8" text-anchor="middle">0.5</text>
<text x="231.40" y="271.8" text-anchor="middle">1.0</text>
<text x="303.60" y="271.8" text-anchor="middle">1.5</text>
<text x="375.80" y="271.8" text-anchor="middle">2.0</text>
<text x="119.7" y="296.6">Modulation Frequency</text>
</g>
<g class="t serif" font-size="16.6" stroke="#000" stroke-width="0.2">
<text x="289.0" y="296.6" font-style="italic">ω</text>
<text x="302.9" y="296.6">[</text>
<text x="308.4" y="296.6" font-style="italic">NC</text>
<text x="331.3" y="296.6">γ]</text>
<text transform="translate(32.8,86.5) rotate(-90)" font-style="italic">T<tspan font-size="11.5" dx="-0.6" dy="3.8">A</tspan></text>
<text transform="translate(32.4,204.5) rotate(-90)" font-style="italic">T<tspan font-size="13.5" dx="-0.3" dy="3.2">ϕ</tspan></text>
</g>
<!-- legend -->
<rect x="309.5" y="28.2" width="53.9" height="62.8" fill="#fff" stroke="#000" stroke-width="1.3"/>
<g stroke-width="1.9" fill="none">
<line x1="314.1" y1="54.9" x2="336.3" y2="54.9" stroke="#000"/>
<line x1="314.1" y1="68.2" x2="336.3" y2="68.2" stroke="#00f"/>
<line x1="314.1" y1="81.4" x2="336.3" y2="81.4" stroke="#f00"/>
</g>
<g class="t sans" font-size="12" stroke="#000" stroke-width="0.15">
<text x="341.5" y="59.3">0</text>
<text x="341.5" y="72.6">0.3</text>
<text x="341.5" y="85.8">0.6</text>
<text x="315.8" y="43.6" font-size="12.6" class="t serif">Γ</text>
<text x="322.7" y="45.9" font-size="9.5">R</text>
<text x="332.15" y="43.6">[</text>
<text x="335.3" y="43.6">N</text>
<text x="342.6" y="43.6">C</text>
<text x="350.6" y="43.6" font-size="13" class="t serif">γ</text>
<text x="357.0" y="43.6">]</text>
</g>
<line x1="316.0" y1="45.35" x2="362.1" y2="45.35" stroke="#000" stroke-width="1.1"/>
</svg>
</body></html>
